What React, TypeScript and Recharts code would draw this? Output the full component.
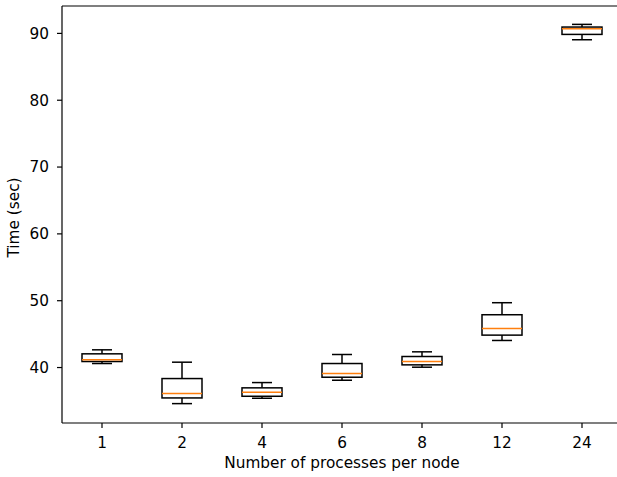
import { Bar, ComposedChart, ReferenceLine, XAxis, YAxis } from "recharts";

// processes per node
const categories = ["1", "2", "4", "6", "8", "12", "24"];

// time in seconds
const whiskerLow = [40.6, 34.6, 35.4, 38.1, 40.05, 44.05, 89.05];
const q1 = [40.9, 35.45, 35.7, 38.55, 40.4, 44.85, 89.85];
const median = [41.17, 36.1, 36.3, 39.1, 40.9, 45.84, 90.7];
const q3 = [42.05, 38.35, 36.96, 40.6, 41.65, 47.9, 90.95];
const whiskerHigh = [42.65, 40.8, 37.75, 41.95, 42.35, 49.7, 91.35];

const yTicks = [40, 50, 60, 70, 80, 90];
const Y_MIN = 31.7;
const Y_MAX = 94.1;

const data = categories.map((cat, i) => ({
  cat,
  low: whiskerLow[i],
  q1: q1[i],
  median: median[i],
  q3: q3[i],
  high: whiskerHigh[i],
}));

const INK = "#000";
const MEDIAN_COLOR = "#ff7f0e";
const FONT = "DejaVu Sans";
const FS = 15.3;
const LW = 1.5;

function BoxShape(props: any) {
  const { x, y, width, height, payload } = props;
  const top = Math.min(y, y + height);
  const h = Math.abs(height);
  const k = h / (payload.high - payload.low);
  const py = (v: number) => top + (payload.high - v) * k;
  const cx = x + width / 2;
  const cap = width / 4;
  const yq3 = py(payload.q3);
  const yq1 = py(payload.q1);
  const ymed = py(payload.median);
  const yHi = py(payload.high);
  const yLo = py(payload.low);
  return (
    <g>
      <line x1={cx} x2={cx} y1={yHi} y2={yq3} stroke={INK} strokeWidth={LW} />
      <line x1={cx} x2={cx} y1={yq1} y2={yLo} stroke={INK} strokeWidth={LW} />
      <line x1={cx - cap} x2={cx + cap} y1={yHi} y2={yHi} stroke={INK} strokeWidth={LW} />
      <line x1={cx - cap} x2={cx + cap} y1={yLo} y2={yLo} stroke={INK} strokeWidth={LW} />
      <rect x={x} y={yq3} width={width} height={yq1 - yq3} fill="none" stroke={INK} strokeWidth={LW} />
      <line x1={x} x2={x + width} y1={ymed} y2={ymed} stroke={MEDIAN_COLOR} strokeWidth={LW} />
    </g>
  );
}

function YLabel({ viewBox }: any) {
  const cx = 19;
  const cy = viewBox.y + viewBox.height / 2 + 3;
  return (
    <text
      x={cx}
      y={cy}
      transform={`rotate(-90 ${cx} ${cy})`}
      textAnchor="middle"
      fontSize={FS}
      fill={INK}
      fontFamily={FONT}
    >
      Time (sec)
    </text>
  );
}

function XLabel({ viewBox }: any) {
  const cx = viewBox.x + viewBox.width / 2;
  return (
    <text x={cx} y={468} textAnchor="middle" fontSize={FS} fill={INK} fontFamily={FONT}>
      Number of processes per node
    </text>
  );
}

export default function App() {
  const tick = { fontSize: FS, fill: INK, fontFamily: FONT };
  return (
    <div
      style={{
        position: "absolute",
        left: 0,
        top: 0,
        width: 617,
        height: 477,
        overflow: "hidden",
        background: "#fff",
        fontFamily: FONT,
      }}
    >
      <ComposedChart width={640} height={477} data={data} margin={{ top: 6, right: 18, bottom: 14, left: 0 }}>
        <XAxis
          dataKey="cat"
          type="category"
          height={40}
          tick={tick}
          tickSize={5}
          tickMargin={9}
          stroke={INK}
          tickLine={{ stroke: INK, strokeWidth: 1.2 }}
          axisLine={{ stroke: INK, strokeWidth: 1.2 }}
          label={{ content: XLabel }}
        />
        <YAxis
          type="number"
          domain={[Y_MIN, Y_MAX]}
          ticks={yTicks}
          allowDataOverflow
          width={62}
          tick={tick}
          tickSize={5}
          tickMargin={8}
          stroke={INK}
          tickLine={{ stroke: INK, strokeWidth: 1.2 }}
          axisLine={{ stroke: INK, strokeWidth: 1.2 }}
          label={{ content: YLabel }}
        />
        <ReferenceLine y={Y_MAX} stroke={INK} strokeWidth={1.2} />
        <Bar dataKey={(d: any) => [d.low, d.high]} barSize={40} shape={BoxShape} isAnimationActive={false} />
      </ComposedChart>
    </div>
  );
}
